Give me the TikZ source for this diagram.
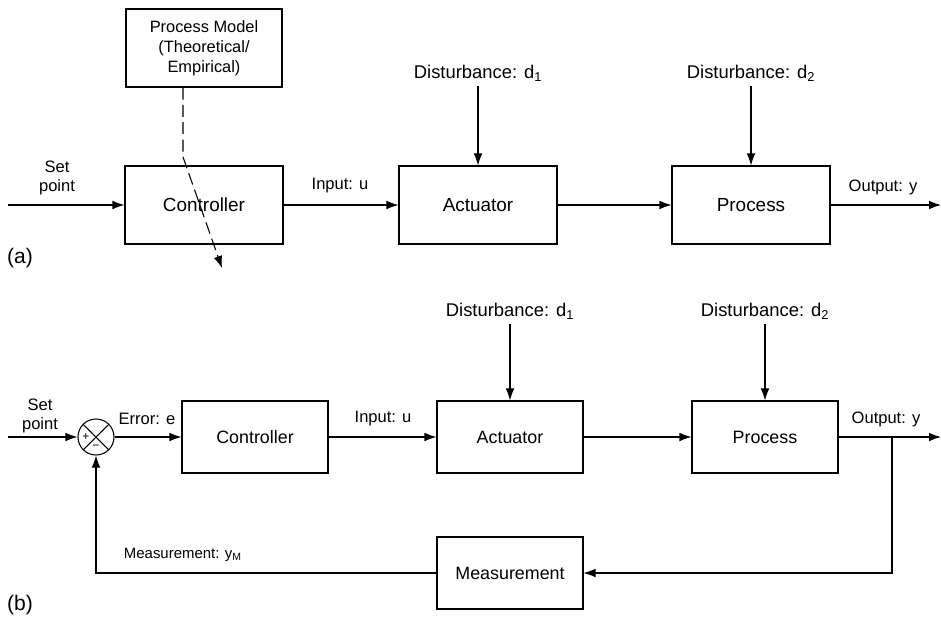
\documentclass[tikz,border=0pt]{standalone}
\usepackage{fontspec}
\setmainfont{Liberation Sans}
\usetikzlibrary{arrows.meta}

\begin{document}
\begin{tikzpicture}[x=0.75pt,y=-0.75pt,
  line width=0.8pt,
  >={Latex[length=9pt,width=6.5pt]},
  blocka/.style={draw,minimum width=118.5pt,minimum height=58.5pt,
    font=\fontsize{14.2}{17}\selectfont},
  blockb/.style={draw,minimum width=109.5pt,minimum height=54pt,
    font=\fontsize{13.4}{16}\selectfont},
  modelbox/.style={draw,minimum width=117pt,minimum height=58.5pt,align=center,
    font=\fontsize{12.3}{15}\selectfont},
  lbl/.style={font=\fontsize{12.4}{14.3}\selectfont,align=center},
  dlbl/.style={font=\fontsize{13.8}{16}\selectfont},
  smalllbl/.style={font=\fontsize{11.2}{13}\selectfont},
  tag/.style={font=\fontsize{15.8}{18}\selectfont},
  sumnode/.style={draw,circle,minimum size=27pt,inner sep=0pt},
  sign/.style={font=\fontsize{9}{9}\selectfont,inner sep=0pt}]
\useasboundingbox (0,0) rectangle (941,617);

% (a) open loop
\node[modelbox] (model) at (204,48) {Process Model\\(Theoretical/\\Empirical)};
\node[blocka] (ctrlA) at (204,205) {Controller};
\node[blocka] (actA) at (478,205) {Actuator};
\node[blocka] (procA) at (751,205) {Process};
\coordinate (spA) at (8,205);
\coordinate (outA) at (941,205);
\coordinate (bendA) at (183,157);
\coordinate (tipA) at (222,268);
\node[lbl] (setA) at (57,178) {Set\\point};
\node[lbl] (inA) at (340,186) {Input: u};
\node[lbl] (outlblA) at (883,187) {Output: y};
\node[dlbl] (d1A) at (478,73) {Disturbance: d\textsubscript{1}};
\node[dlbl] (d2A) at (751,73) {Disturbance: d\textsubscript{2}};
\node[tag] (tagA) at (20,258) {(a)};
\draw[->] (spA) -- (ctrlA);
\draw[->] (ctrlA) -- (actA);
\draw[->] (actA) -- (procA);
\draw[->] (procA) -- (outA);
\draw[->] (d1A) -- (actA);
\draw[->] (d2A) -- (procA);
\draw[->,dash pattern=on 9pt off 4pt] (bendA |- model.south) -- (bendA) -- (tipA);

% (b) closed loop
\node[sumnode] (sum) at (96,437) {};
\draw (sum.north west) -- (sum.south east);
\draw (sum.north east) -- (sum.south west);
\node[sign] (plus) at ([xshift=-7.5pt]sum.center) {+};
\node[sign] (minus) at ([yshift=-7.5pt]sum.center) {−};
\node[blockb] (ctrlB) at (255,437) {Controller};
\node[blockb] (actB) at (510,437) {Actuator};
\node[blockb] (procB) at (765,437) {Process};
\node[blockb] (meas) at (510,573) {Measurement};
\coordinate (spB) at (8,437);
\coordinate (outB) at (941,437);
\coordinate (tapB) at (892,437);
\node[lbl] (setB) at (40,416) {Set\\point};
\node[lbl] (errB) at (147,419) {Error: e};
\node[lbl] (inB) at (383,419) {Input: u};
\node[lbl] (outlblB) at (886,419) {Output: y};
\node[smalllbl,anchor=west] (ymB) at (119,555) {Measurement: y\textsubscript{M}};
\node[dlbl] (d1B) at (510,311) {Disturbance: d\textsubscript{1}};
\node[dlbl] (d2B) at (765,311) {Disturbance: d\textsubscript{2}};
\node[tag] (tagB) at (20,605) {(b)};
\draw[->] (spB) -- (sum);
\draw[->] (sum) -- (ctrlB);
\draw[->] (ctrlB) -- (actB);
\draw[->] (actB) -- (procB);
\draw[->] (procB) -- (outB);
\draw[->] (d1B) -- (actB);
\draw[->] (d2B) -- (procB);
\draw[->] (tapB) |- (meas);
\draw[->] (meas) -| (sum);
\end{tikzpicture}
\end{document}
